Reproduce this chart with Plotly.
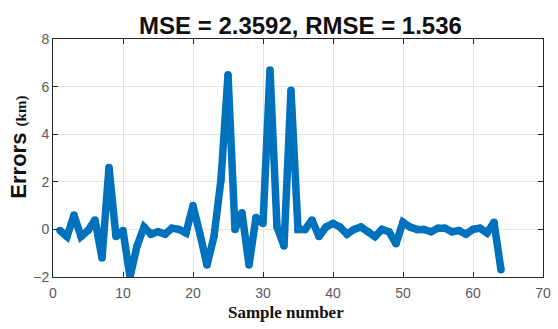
import plotly.graph_objects as go

sample = list(range(1, 65))
errors = [-0.05, -0.3, 0.6, -0.3, -0.05, 0.4, -1.2, 2.6, -0.3, -0.05,
          -2.0, -0.7, 0.1, -0.2, -0.1, -0.2, 0.05, 0.0, -0.15, 1.0,
          -0.2, -1.5, -0.3, 2.1, 6.5, 0.0, 0.7, -1.5, 0.5, 0.25,
          6.7, 0.1, -0.7, 5.85, 0.0, 0.0, 0.4, -0.3, 0.1, 0.25,
          0.1, -0.2, 0.0, 0.1, -0.1, -0.3, 0.0, -0.1, -0.6, 0.3,
          0.1, 0.0, 0.0, -0.1, 0.05, 0.05, -0.1, -0.05, -0.2, 0.0,
          0.05, -0.15, 0.3, -1.7]
x_ticks = [0, 10, 20, 30, 40, 50, 60, 70]
y_ticks = [-2, 0, 2, 4, 6, 8]

fig = go.Figure()
fig.add_trace(go.Scatter(x=sample, y=errors, mode="lines+markers",
                         line=dict(color="#0072BD", width=7.5),
                         marker=dict(color="#0072BD", size=7.5),
                         showlegend=False))

axis_common = dict(showline=True, mirror="ticks", linecolor="#262626", linewidth=1,
                   ticks="inside", ticklen=5, tickcolor="#262626",
                   showgrid=True, gridcolor="#e3e3e3", gridwidth=1, zeroline=False,
                   ticklabeloverflow="allow",
                   tickfont=dict(family="Liberation Sans, Arial", size=14, color="#5a5a5a"))

fig.update_layout(
    width=558, height=329,
    margin=dict(l=53, r=7, t=39, b=52),
    paper_bgcolor="white", plot_bgcolor="white",
    title=dict(text="<b>MSE = 2.3592, RMSE = 1.536</b>", x=0.5385, xanchor="center",
               y=0.922, yanchor="middle",
               font=dict(family="Liberation Sans, Arial", size=24, color="#111111")),
    xaxis=dict(range=[0, 70], tickvals=x_ticks, ticklabelstandoff=3, **axis_common),
    yaxis=dict(range=[-2, 8], tickvals=y_ticks, **axis_common),
    annotations=[
        dict(text="<b>Sample number</b>", xref="paper", yref="paper",
             x=0.476, y=-0.151, xanchor="center", yanchor="middle", showarrow=False,
             font=dict(family="Liberation Serif, Times New Roman", size=17, color="#111111")),
        dict(text="<b>Errors</b> <span style='font-family:Liberation Serif;font-size:15px'><b>(km)</b></span>",
             xref="paper", yref="paper", x=-0.0723, y=0.546, textangle=-90,
             xanchor="center", yanchor="middle", showarrow=False,
             font=dict(family="Liberation Sans, Arial", size=22, color="#111111")),
    ],
)
fig.write_html("out.html")
